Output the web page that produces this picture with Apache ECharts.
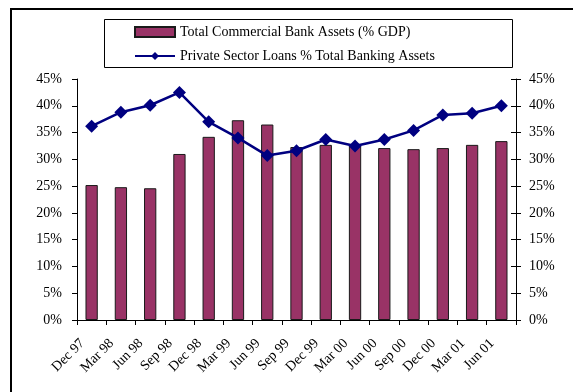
<!DOCTYPE html>
<html>
<head>
<meta charset="utf-8">
<script src="https://cdn.jsdelivr.net/npm/echarts@6/dist/echarts.min.js"></script>
<style>
  html, body { margin: 0; padding: 0; background: #fff; }
  #chart { width: 573px; height: 392px; }
</style>
</head>
<body>
<div id="chart"></div>
<script>
// Quarterly periods
const quarters = ['Dec 97', 'Mar 98', 'Jun 98', 'Sep 98', 'Dec 98', 'Mar 99', 'Jun 99', 'Sep 99',
                  'Dec 99', 'Mar 00', 'Jun 00', 'Sep 00', 'Dec 00', 'Mar 01', 'Jun 01'];

// Total commercial bank assets, % of GDP
const bankAssetsGdp = [25.2, 24.8, 24.6, 31.0, 34.2, 37.3, 36.5, 32.3,
                       32.7, 32.6, 32.1, 31.9, 32.1, 32.7, 33.4];

// Private sector loans as % of total banking assets
const privateLoansShare = [36.2, 38.8, 40.1, 42.5, 37.0, 34.0, 30.7, 31.6,
                           33.7, 32.5, 33.7, 35.4, 38.3, 38.6, 40.0];

// Percent axis range
const pctMin = 0, pctMax = 45, pctStep = 5;

const serif = '"Liberation Serif", "Times New Roman", serif';
const barName = 'Total Commercial Bank Assets (% GDP)';
const lineName = 'Private Sector Loans % Total Banking Assets';

const chart = echarts.init(document.getElementById('chart'), null, { renderer: 'canvas' });

const pctAxis = (pos, extra) => Object.assign({
  type: 'value',
  position: pos,
  min: pctMin, max: pctMax, interval: pctStep,
  splitLine: { show: false },
  axisLine: { show: true, lineStyle: { color: '#000', width: 1 } },
  axisTick: { show: true, length: 5, lineStyle: { color: '#000' } },
  axisLabel: { formatter: '{value}%', color: '#000', fontFamily: serif, fontSize: 14 }
}, extra);

chart.setOption({
  animation: false,
  backgroundColor: '#fff',
  graphic: [
    { type: 'rect', shape: { x: 11, y: 9, width: 620, height: 420 },
      style: { fill: 'none', stroke: '#000', lineWidth: 2 }, z: 0 },
    { type: 'rect', shape: { x: 104.5, y: 19.5, width: 408, height: 48 },
      style: { fill: '#fff', stroke: '#000', lineWidth: 1 }, z: 1 }
  ],
  legend: {
    orient: 'vertical',
    left: 129, top: 20,
    itemWidth: 40, itemHeight: 10, itemGap: 10,
    textStyle: { color: '#000', fontFamily: serif, fontSize: 14 },
    data: [
      { name: barName, icon: 'rect' },
      { name: lineName }
    ],
    z: 5
  },
  grid: { left: 77, right: 57, top: 79, bottom: 72 },
  xAxis: {
    type: 'category',
    data: quarters,
    boundaryGap: true,
    axisLine: { lineStyle: { color: '#000', width: 1 } },
    axisTick: { show: true, length: 5, alignWithLabel: false, lineStyle: { color: '#000' } },
    axisLabel: {
      interval: 0, rotate: 45, margin: 12,
      padding: [0, 13, 0, 0],
      color: '#000', fontFamily: serif, fontSize: 14
    }
  },
  yAxis: [
    pctAxis('left', { axisLabel: { formatter: '{value}%', color: '#000', fontFamily: serif, fontSize: 14, margin: 15 } }),
    pctAxis('right', { axisLabel: { formatter: '{value}%', color: '#000', fontFamily: serif, fontSize: 14, margin: 13 } }),
    pctAxis('right', {
      axisLine: { show: false },
      axisLabel: { show: false },
      axisTick: { show: true, inside: true, length: 5, lineStyle: { color: '#000' } }
    })
  ],
  series: [
    {
      name: barName,
      type: 'bar',
      data: bankAssetsGdp,
      barWidth: '42%',
      itemStyle: { color: '#993366', borderColor: '#1a1a1a', borderWidth: 1 },
      z: 2
    },
    {
      name: lineName,
      type: 'line',
      data: privateLoansShare,
      symbol: 'diamond',
      symbolSize: [13, 13],
      lineStyle: { color: '#000080', width: 2.5 },
      itemStyle: { color: '#000080' },
      z: 3
    }
  ]
});
</script>
</body>
</html>
